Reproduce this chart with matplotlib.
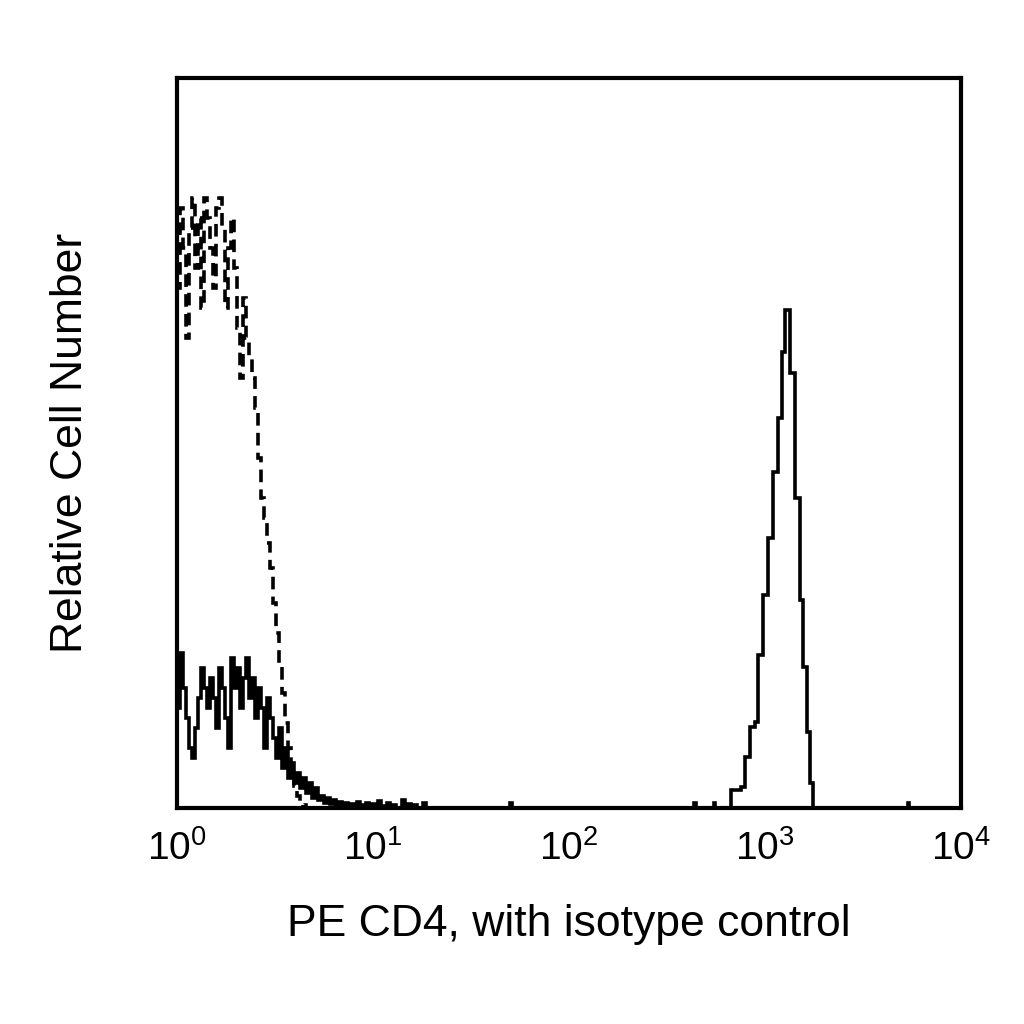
import numpy as np
import matplotlib
matplotlib.use("Agg")
import matplotlib.pyplot as plt

plt.rcParams['font.family'] = ['Liberation Sans', 'DejaVu Sans']

# channel width in log10 units for the low-intensity region
bin_w = 0.0153

# isotype control (dashed), heights from channel 0 (10^0)
isotype_counts = [520, 600, 560, 470, 580, 610, 540, 590, 500, 610, 590, 560,
                  520, 600, 610, 580, 500, 560, 590, 540, 480, 430, 510, 470,
                  450, 430, 400, 350, 310, 290, 265, 240, 205, 175, 145, 115,
                  85, 60, 40, 22, 12, 5, 3, 0]

# CD4 stained (solid), low-intensity part
cd4_low_counts = [100, 155, 120, 90, 60, 50, 80, 110, 140, 120, 100, 130, 110,
                  80, 140, 120, 90, 60, 150, 120, 140, 100, 130, 150, 110, 130,
                  90, 120, 100, 60, 110, 90, 70, 50, 80, 40, 60, 30, 45, 25, 35,
                  20, 30, 15, 25, 10, 20, 8, 12, 5, 10, 4, 8, 3, 6, 2, 5, 0, 4,
                  2, 6, 0, 3, 5, 0, 4, 0, 7, 2, 0, 5, 0, 3, 0, 0, 8, 0, 4, 0, 3,
                  0, 0, 5, 0, 0]

# sparse events at higher intensity (log10 position, height)
blip_pos = [1.70, 2.64, 2.74, 3.73]
blip_h = [5, 5, 5, 5]

# CD4 positive peak, bin edges in log10 intensity and heights
peak_edges = [2.830, 2.881, 2.902, 2.927, 2.953, 2.968, 2.994, 3.019, 3.045,
              3.070, 3.086, 3.106, 3.127, 3.157, 3.180, 3.197, 3.214, 3.232, 3.249]
peak_counts = [18, 21, 51, 81, 86, 153, 213, 270, 336, 390, 456, 498, 435,
               310, 208, 141, 76, 25]

fig = plt.figure(figsize=(10.24, 10.24), dpi=100)
ax = fig.add_axes([0.173, 0.211, 0.765, 0.713])

lw = 2.6
iso_edges = 10 ** (np.arange(len(isotype_counts) + 1) * bin_w)
ax.stairs(isotype_counts, iso_edges, color='black', lw=lw, linestyle=(0, (3.5, 2)))

low_edges = 10 ** (np.arange(len(cd4_low_counts) + 1) * bin_w)
ax.stairs(cd4_low_counts, low_edges, color='black', lw=lw)

for p, h in zip(blip_pos, blip_h):
    ax.stairs([h], [10 ** p, 10 ** (p + bin_w / 2)], color='black', lw=lw)

ax.stairs(peak_counts, 10 ** np.array(peak_edges), color='black', lw=lw)

ax.set_xscale('log')
ax.set_xlim(1, 1e4)
ax.set_ylim(0, 730)
ax.set_xticks([1, 10, 100, 1000, 10000])
ax.set_xticklabels([r'$\mathregular{10^{%d}}$' % i for i in range(5)])
ax.minorticks_off()
ax.set_yticks([])
ax.tick_params(axis='x', length=0, pad=16, labelsize=28)
for s in ax.spines.values():
    s.set_linewidth(3)

ax.set_xlabel('PE CD4, with isotype control', fontsize=32, labelpad=26)
ax.set_ylabel('Relative Cell Number', fontsize=32, labelpad=62)

fig.savefig('out.png', dpi=100)
